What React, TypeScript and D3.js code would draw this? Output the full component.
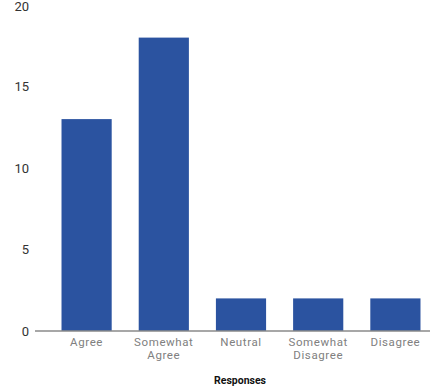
import React, { useEffect, useRef } from 'react';
import * as d3 from 'd3';

const categories = ['Agree', 'Somewhat Agree', 'Neutral', 'Somewhat Disagree', 'Disagree'];
const values = [13, 18, 2, 2, 2];
const yTicks = [0, 5, 10, 15, 20];
const xTitle = 'Responses';

const W = 430;
const H = 387;

function BarChart() {
  const ref = useRef<SVGSVGElement | null>(null);

  useEffect(() => {
    const svg = d3.select(ref.current);
    svg.selectAll('*').remove();

    const x = d3.scaleBand<string>()
      .domain(categories)
      .range([48, 434])
      .paddingInner(0.35)
      .paddingOuter(0.175);

    const y = d3.scaleLinear().domain([0, 20]).range([331, 5]);

    // bars
    svg.append('g')
      .selectAll('rect')
      .data(values)
      .enter()
      .append('rect')
      .attr('x', (_d, i) => x(categories[i]) as number)
      .attr('y', (d) => y(d))
      .attr('width', x.bandwidth())
      .attr('height', (d) => y(0) - y(d))
      .attr('fill', '#2b53a0');

    // baseline
    svg.append('line')
      .attr('x1', 35)
      .attr('x2', W)
      .attr('y1', y(0))
      .attr('y2', y(0))
      .attr('stroke', '#8a8a8a')
      .attr('stroke-width', 1.5);

    // y tick labels (top one kept inside the frame)
    svg.append('g')
      .selectAll('text')
      .data(yTicks)
      .enter()
      .append('text')
      .attr('x', 29)
      .attr('y', (d) => Math.max(y(d), 6.5))
      .attr('dy', '0.35em')
      .attr('text-anchor', 'end')
      .attr('font-family', 'Roboto, sans-serif')
      .attr('font-size', 13)
      .attr('fill', '#333')
      .text((d) => d);

    // x tick labels (wrapped into two lines)
    const xl = svg.append('g')
      .selectAll('text')
      .data(categories)
      .enter()
      .append('text')
      .attr('text-anchor', 'middle')
      .attr('font-family', 'Roboto, sans-serif')
      .attr('font-size', 11.5)
      .attr('letter-spacing', 0.6)
      .attr('fill', '#808080');

    xl.each(function (d) {
      const words = d.split(' ');
      const cx = (x(d) as number) + x.bandwidth() / 2;
      words.forEach((w, j) => {
        d3.select(this).append('tspan')
          .attr('x', cx)
          .attr('y', 346 + j * 13)
          .text(w);
      });
    });

    // x axis title
    svg.append('text')
      .attr('x', 240)
      .attr('y', 384)
      .attr('text-anchor', 'middle')
      .attr('font-family', 'Roboto, sans-serif')
      .attr('font-weight', 'bold')
      .attr('font-size', 10.5)
      .attr('fill', '#111')
      .text(xTitle);
  }, []);

  return <svg ref={ref} width={W} height={H} style={{ display: 'block' }} />;
}

export default function App() {
  return (
    <div style={{ position: 'absolute', left: 0, top: 0, background: '#fff' }}>
      <BarChart />
    </div>
  );
}
